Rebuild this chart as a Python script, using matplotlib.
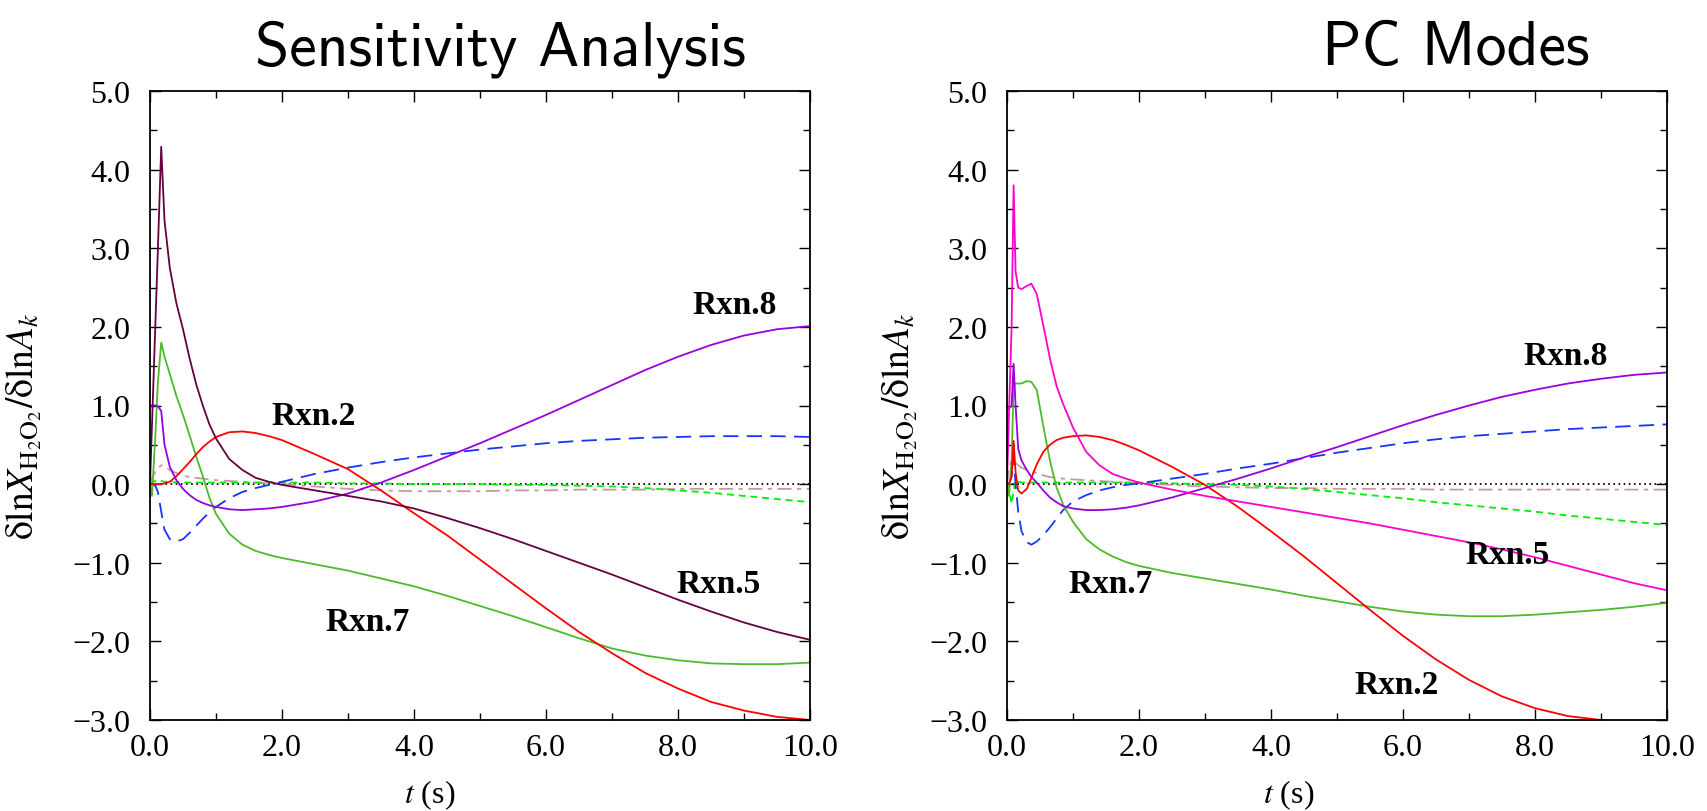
import matplotlib
matplotlib.use("Agg")
import matplotlib.pyplot as plt
from matplotlib.ticker import MultipleLocator, FuncFormatter

plt.rcParams['font.family'] = ['Liberation Serif', 'DejaVu Serif']
plt.rcParams['mathtext.fontset'] = 'stix'
plt.rcParams['lines.scale_dashes'] = False

# ---------------- data: Sensitivity Analysis (left) ----------------
t_left = [0, 0.03, 0.08, 0.12, 0.17, 0.22, 0.3, 0.4, 0.5, 0.6, 0.7, 0.8, 0.9, 1.0,
          1.2, 1.4, 1.6, 1.8, 2.0, 2.5, 3.0, 3.5, 4.0, 4.5, 5.0, 5.5, 6.0, 6.5,
          7.0, 7.5, 8.0, 8.5, 9.0, 9.5, 10.0]
sa_rxn5 = [0, 0.75, 2.0, 3.0, 4.29, 3.35, 2.75, 2.3, 1.97, 1.6, 1.27, 1.0, 0.76, 0.58,
           0.32, 0.18, 0.08, 0.03, -0.01, -0.08, -0.15, -0.22, -0.31, -0.43, -0.56, -0.7,
           -0.85, -1.0, -1.15, -1.31, -1.47, -1.62, -1.76, -1.88, -1.98]
sa_rxn7 = [0, -0.15, 0.6, 1.3, 1.8, 1.62, 1.4, 1.12, 0.88, 0.62, 0.35, 0.1, -0.17, -0.38,
           -0.63, -0.77, -0.85, -0.9, -0.94, -1.02, -1.1, -1.2, -1.3, -1.42, -1.55, -1.68,
           -1.82, -1.96, -2.09, -2.18, -2.24, -2.28, -2.29, -2.29, -2.27]
sa_rxn2 = [0, 0, 0, 0, 0, 0.01, 0.03, 0.1, 0.19, 0.28, 0.38, 0.47, 0.54, 0.6,
           0.66, 0.67, 0.65, 0.61, 0.56, 0.38, 0.19, -0.08, -0.37, -0.65, -0.96, -1.27,
           -1.58, -1.88, -2.15, -2.4, -2.6, -2.77, -2.88, -2.96, -3.0]
sa_rxn8 = [1.0, 1.0, 1.0, 0.99, 0.93, 0.5, 0.22, 0.05, -0.06, -0.14, -0.2, -0.24, -0.27, -0.29,
           -0.32, -0.33, -0.32, -0.31, -0.29, -0.22, -0.12, 0.02, 0.18, 0.35, 0.52, 0.7,
           0.88, 1.07, 1.26, 1.45, 1.62, 1.77, 1.89, 1.97, 2.01]
sa_blue = [0, 0.0, -0.02, -0.1, -0.35, -0.58, -0.7, -0.73, -0.7, -0.62, -0.53, -0.44, -0.36, -0.29,
           -0.18, -0.1, -0.05, -0.01, 0.03, 0.13, 0.21, 0.28, 0.34, 0.39, 0.44, 0.48,
           0.52, 0.55, 0.57, 0.59, 0.6, 0.61, 0.61, 0.61, 0.6]
sa_gdash = [0, 0.02, 0.04, 0.05, 0.04, 0.03, 0.03, 0.02, 0.02, 0.02, 0.02, 0.02, 0.02, 0.02,
            0.02, 0.02, 0.02, 0.02, 0.02, 0.02, 0.01, 0.01, 0.0, 0.0, -0.0, -0.01,
            -0.01, -0.02, -0.03, -0.05, -0.08, -0.11, -0.15, -0.19, -0.23]
sa_brown = [0, 0.08, 0.15, 0.2, 0.24, 0.22, 0.18, 0.14, 0.11, 0.09, 0.08, 0.07, 0.06, 0.05,
            0.04, 0.03, 0.02, 0.01, 0.0, -0.03, -0.06, -0.08, -0.09, -0.09, -0.09, -0.08,
            -0.08, -0.07, -0.07, -0.07, -0.06, -0.06, -0.06, -0.06, -0.06]

# ---------------- data: PC Modes (right) ----------------
t_right = [0, 0.03, 0.07, 0.1, 0.13, 0.17, 0.22, 0.3, 0.37, 0.45, 0.55, 0.65, 0.75, 0.85,
           1.0, 1.2, 1.4, 1.6, 1.8, 2.0, 2.5, 3.0, 3.5, 4.0, 4.5, 5.0, 5.5, 6.0, 6.5,
           7.0, 7.5, 8.0, 8.5, 9.0, 9.5, 10.0]
pc_rxn5 = [0, 0.9, 2.0, 3.8, 2.7, 2.5, 2.48, 2.52, 2.55, 2.42, 2.02, 1.6, 1.25, 1.02,
           0.72, 0.41, 0.24, 0.13, 0.07, 0.02, -0.07, -0.15, -0.22, -0.29, -0.36, -0.43,
           -0.5, -0.58, -0.66, -0.74, -0.83, -0.93, -1.04, -1.15, -1.26, -1.35]
pc_rxn8 = [1.0, 0.96, 1.0, 1.53, 1.0, 0.45, 0.3, 0.18, 0.09, 0.02, -0.08, -0.17, -0.23, -0.28,
           -0.31, -0.33, -0.33, -0.32, -0.3, -0.27, -0.17, -0.05, 0.07, 0.2, 0.34, 0.47,
           0.61, 0.75, 0.88, 1.0, 1.11, 1.2, 1.28, 1.34, 1.39, 1.42]
pc_rxn7 = [0, -0.15, 0.3, 1.25, 1.28, 1.28, 1.28, 1.31, 1.3, 1.2, 0.74, 0.3, -0.04, -0.26,
           -0.48, -0.7, -0.83, -0.92, -0.99, -1.04, -1.13, -1.2, -1.27, -1.34, -1.42, -1.49,
           -1.56, -1.62, -1.66, -1.68, -1.68, -1.66, -1.63, -1.6, -1.56, -1.51]
pc_rxn2 = [0, 0.0, 0.1, 0.55, 0.15, -0.08, -0.12, -0.06, 0.08, 0.25, 0.41, 0.5, 0.56, 0.59,
           0.61, 0.62, 0.6, 0.56, 0.5, 0.43, 0.22, -0.01, -0.29, -0.6, -0.92, -1.26,
           -1.6, -1.93, -2.23, -2.49, -2.7, -2.85, -2.95, -3.0, -3.05, -3.08]
pc_blue = [0, 0.0, 0.1, 0.35, 0.0, -0.35, -0.6, -0.74, -0.77, -0.73, -0.65, -0.55, -0.44, -0.33,
           -0.22, -0.14, -0.08, -0.04, -0.01, 0.01, 0.07, 0.13, 0.2, 0.26, 0.33, 0.4,
           0.46, 0.52, 0.57, 0.61, 0.64, 0.67, 0.7, 0.72, 0.74, 0.76]
pc_gdash = [0, -0.05, -0.25, -0.1, 0.05, 0.03, 0.02, 0.02, 0.02, 0.02, 0.02, 0.02, 0.02, 0.02,
            0.02, 0.02, 0.02, 0.02, 0.02, 0.02, 0.01, 0.0, -0.01, -0.03, -0.06, -0.1,
            -0.14, -0.18, -0.23, -0.27, -0.31, -0.35, -0.4, -0.44, -0.48, -0.52]
pc_brown = [0, 0.2, 0.3, 0.3, 0.27, 0.24, 0.21, 0.18, 0.16, 0.14, 0.11, 0.09, 0.08, 0.07,
            0.06, 0.05, 0.04, 0.03, 0.02, 0.01, -0.01, -0.03, -0.04, -0.05, -0.05, -0.06,
            -0.06, -0.06, -0.07, -0.07, -0.07, -0.07, -0.07, -0.07, -0.07, -0.07]

zero_t = [0, 10]
zero_v = [0, 0]

titles = ["Sensitivity Analysis", "PC Modes"]
x_ticks = [0, 2, 4, 6, 8, 10]
y_ticks = [-3, -2, -1, 0, 1, 2, 3, 4, 5]

# ---------------- styling ----------------
C_MAROON = '#66003f'
C_GREEN = '#4cbb2a'
C_RED = '#ff0000'
C_PURPLE = '#9900dd'
C_MAGENTA = '#ff00cc'
C_BLUE = '#1a33ff'
C_GDASH = '#00ee00'
C_BROWN = '#c49a9a'
LW = 1.3

W, H = 1707, 812
fig = plt.figure(figsize=(W / 100, H / 100), dpi=100)
ax1 = fig.add_axes([150 / W, 1 - 721 / H, 660 / W, 629 / H])
ax2 = fig.add_axes([1007 / W, 1 - 721 / H, 660 / W, 629 / H])

fmt = FuncFormatter(lambda v, p: f"{v:.1f}".replace('-', '\u2212'))


def style(ax):
    ax.set_xlim(0, 10)
    ax.set_ylim(-3, 5)
    ax.set_xticks(x_ticks)
    ax.set_yticks(y_ticks)
    ax.xaxis.set_minor_locator(MultipleLocator(1.0))
    ax.yaxis.set_minor_locator(MultipleLocator(0.5))
    ax.xaxis.set_major_formatter(fmt)
    ax.yaxis.set_major_formatter(fmt)
    ax.tick_params(which='both', direction='in', top=True, right=True, width=1.0,
                   colors='black')
    ax.tick_params(which='major', length=8)
    ax.tick_params(which='minor', length=5)
    ax.tick_params(axis='x', which='major', labelsize=23, pad=9)
    ax.tick_params(axis='y', which='major', labelsize=23, pad=14)
    for s in ax.spines.values():
        s.set_linewidth(1.3)
    ax.set_xlabel('$t$ (s)', fontsize=23)
    ax.set_ylabel(r'$\mathrm{\delta ln}X_{\mathrm{H}_2\mathrm{O}_2}/\mathrm{\delta ln}A_k$', fontsize=27)


def zero(ax):
    ax.plot(zero_t, zero_v, color='black', lw=1.3, dashes=(1.2, 2.5), zorder=1)


# left panel
zero(ax1)
ax1.plot(t_left, sa_brown, color=C_BROWN, lw=LW, dashes=(10, 4, 3, 4))
ax1.plot(t_left, sa_gdash, color=C_GDASH, lw=LW, dashes=(5, 3.5))
ax1.plot(t_left, sa_blue, color=C_BLUE, lw=LW, dashes=(11, 6))
ax1.plot(t_left, sa_rxn7, color=C_GREEN, lw=LW)
ax1.plot(t_left, sa_rxn2, color=C_RED, lw=LW)
ax1.plot(t_left, sa_rxn8, color=C_PURPLE, lw=LW)
ax1.plot(t_left, sa_rxn5, color=C_MAROON, lw=LW)

# right panel
zero(ax2)
ax2.plot(t_right, pc_brown, color=C_BROWN, lw=LW, dashes=(10, 4, 3, 4))
ax2.plot(t_right, pc_gdash, color=C_GDASH, lw=LW, dashes=(5, 3.5))
ax2.plot(t_right, pc_blue, color=C_BLUE, lw=LW, dashes=(11, 6))
ax2.plot(t_right, pc_rxn7, color=C_GREEN, lw=LW)
ax2.plot(t_right, pc_rxn2, color=C_RED, lw=LW)
ax2.plot(t_right, pc_rxn8, color=C_PURPLE, lw=LW)
ax2.plot(t_right, pc_rxn5, color=C_MAGENTA, lw=LW)

for ax in (ax1, ax2):
    style(ax)

ax1.yaxis.set_label_coords(-0.161, 0.469)
ax2.yaxis.set_label_coords(-0.132, 0.469)
ax1.xaxis.set_label_coords(0.424, -0.091)
ax2.xaxis.set_label_coords(0.426, -0.091)

lab = dict(fontsize=24, fontweight='bold', ha='center', va='center')
ax1.text(8.86, 2.28, 'Rxn.8', **lab)
ax1.text(2.48, 0.87, 'Rxn.2', **lab)
ax1.text(8.62, -1.27, 'Rxn.5', **lab)
ax1.text(3.30, -1.75, 'Rxn.7', **lab)
ax2.text(8.47, 1.64, 'Rxn.8', **lab)
ax2.text(7.59, -0.9, 'Rxn.5', **lab)
ax2.text(1.57, -1.27, 'Rxn.7', **lab)
ax2.text(5.91, -2.55, 'Rxn.2', **lab)

fig.text(500 / W, 1 - 49 / H, titles[0], family='cmss10', fontsize=44.5, ha='center', va='center')
fig.text(1456 / W, 1 - 49 / H, titles[1], family='cmss10', fontsize=44.5, ha='center', va='center')

fig.savefig('out.png', dpi=100)
